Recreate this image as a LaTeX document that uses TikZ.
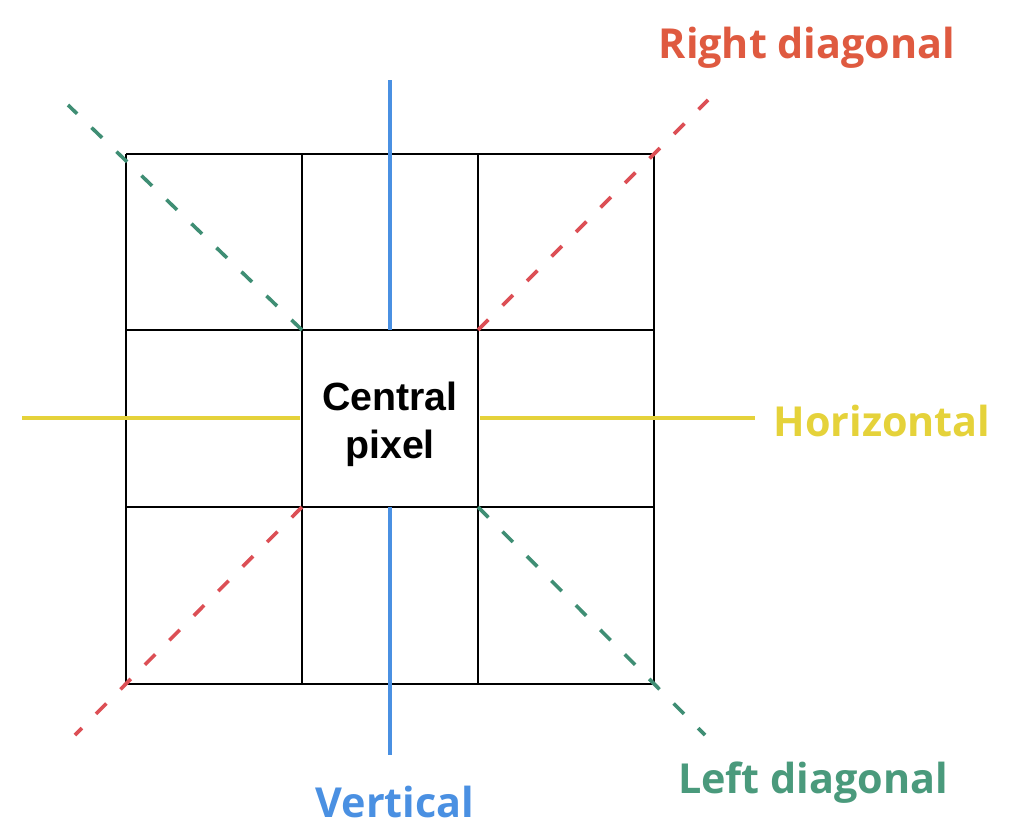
\documentclass[tikz,border=0pt]{standalone}
\usepackage{fontspec}
\setmainfont{Liberation Sans}
\newfontfamily\labfont{Open Sans}
\definecolor{rdiag}{HTML}{DC4F55}
\definecolor{rlab}{HTML}{DF5A40}
\definecolor{gdiag}{HTML}{3F8E74}
\definecolor{glab}{HTML}{4A9A7C}
\definecolor{yel}{HTML}{E5D23A}
\definecolor{blu}{HTML}{4A90E2}
\tikzset{
  grid line/.style={black, line width=0.9pt},
  diagdash/.style={line width=2.7pt, dash pattern=on 11pt off 15pt},
  labtext/.style={font=\labfont\bfseries\fontsize{31}{36}\selectfont, inner sep=0pt},
}
\begin{document}
\begin{tikzpicture}[x=0.75pt,y=-0.75pt]
\useasboundingbox (0,0) rectangle (1010,839);
% grid
\foreach \x in {126,302,478,654} \draw[grid line] (\x,154) -- (\x,684);
\foreach \y in {154,330,507,684} \draw[grid line] (126,\y) -- (654,\y);
\node[font=\bfseries\fontsize{29.5}{36}\selectfont, align=center] (cp) at (390,424) {Central\\pixel};
% coordinates
\coordinate (vt) at (390,80); \coordinate (vt2) at (390,330);
\coordinate (vb) at (390,755); \coordinate (vb2) at (390,507);
\coordinate (hl) at (22,418); \coordinate (hl2) at (300,418);
\coordinate (hr) at (755,418); \coordinate (hr2) at (480,418);
\coordinate (r1) at (75,735); \coordinate (r2) at (302,507);
\coordinate (r3) at (478,330); \coordinate (r4) at (708,100);
\coordinate (g1) at (68,105); \coordinate (g2) at (302,330);
\coordinate (g3) at (478,507); \coordinate (g4) at (705,735);
% lines
\draw[blu, line width=2.6pt] (vt) -- (vt2);
\draw[blu, line width=2.6pt] (vb2) -- (vb);
\draw[yel, line width=2.3pt] (hl) -- (hl2);
\draw[yel, line width=2.3pt] (hr2) -- (hr);
\draw[rdiag, diagdash] (r2) -- (r1);
\draw[rdiag, diagdash] (r3) -- (r4);
\draw[gdiag, diagdash] (g2) -- (g1);
\draw[gdiag, diagdash] (g3) -- (g4);
% labels
\node[labtext, text=rlab] (rl) at (807,48) {Right diagonal};
\node[labtext, text=yel] (hlab) at (882,421) {Horizontal};
\node[labtext, text=blu] (vlab) at (395,802) {Vertical};
\node[labtext, text=glab] (llab) at (813,783) {Left diagonal};
\end{tikzpicture}
\end{document}
